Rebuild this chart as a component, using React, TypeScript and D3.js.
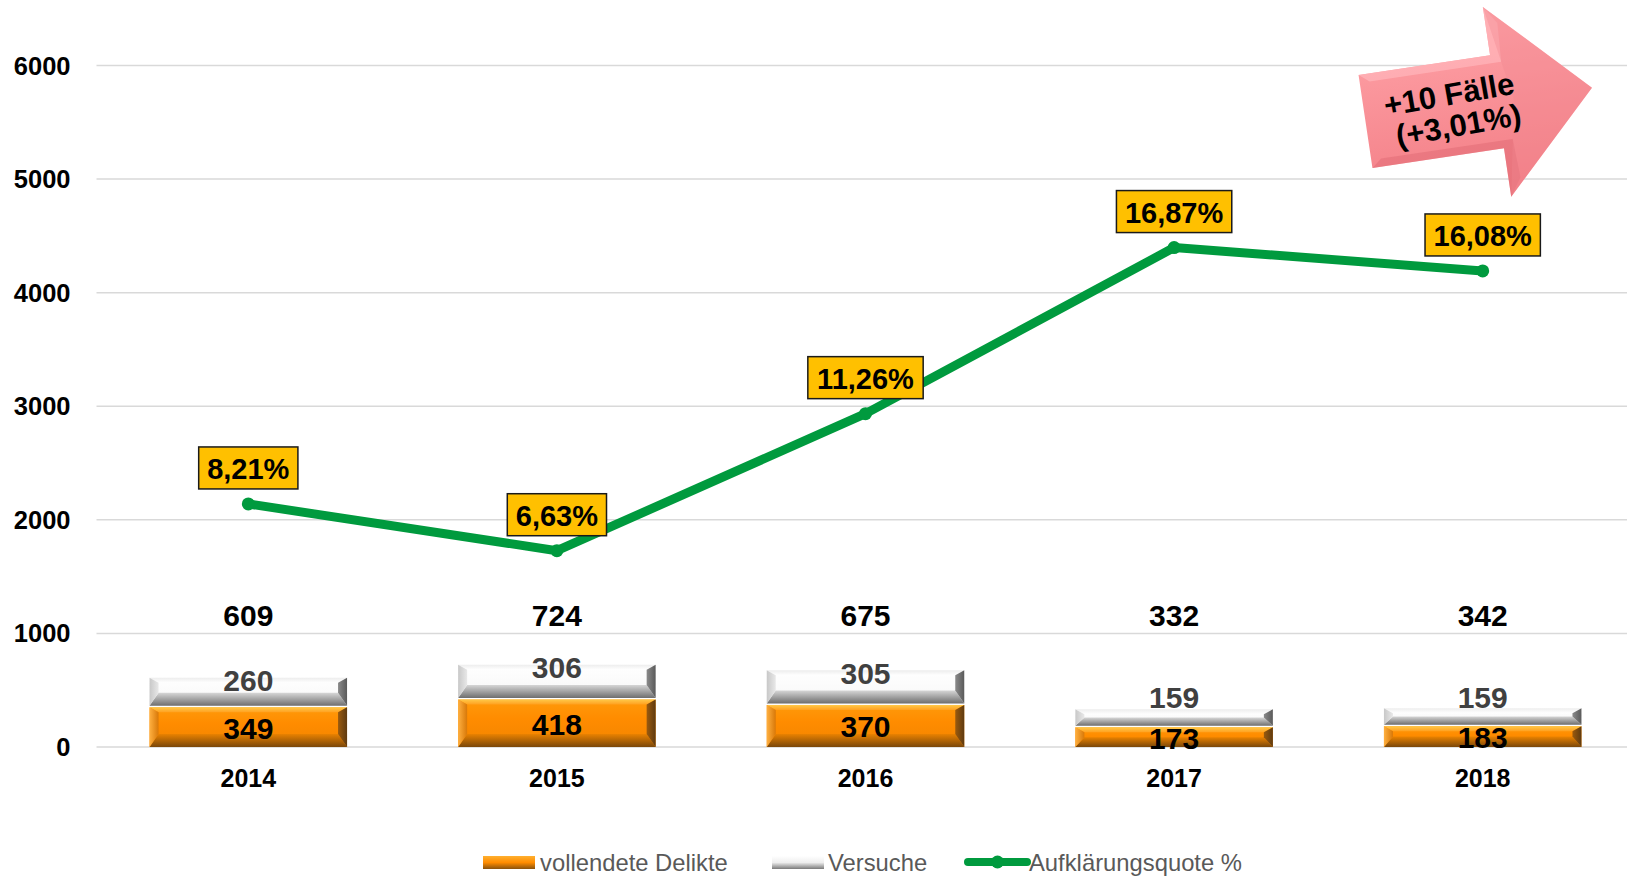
import React from "react";
import * as d3 from "d3";

const years = ["2014", "2015", "2016", "2017", "2018"];
const vollendete = [349, 418, 370, 173, 183];
const versuche = [260, 306, 305, 159, 159];
const totals = [609, 724, 675, 332, 342];
const quote = [8.21, 6.63, 11.26, 16.87, 16.08];
const quoteLabels = ["8,21%", "6,63%", "11,26%", "16,87%", "16,08%"];
const yTicks = [0, 1000, 2000, 3000, 4000, 5000, 6000];
const legendItems = ["vollendete Delikte", "Versuche", "Aufklärungsquote %"];
const arrowLines = ["+10 Fälle", "(+3,01%)"];

const W = 1627;
const H = 876;

const x = d3.scaleBand<string>().domain(years).range([94, 1637]).paddingInner(0.36).paddingOuter(0.18);
const y = d3.scaleLinear().domain([0, 6000]).range([747, 65.5]);
const y2 = d3.scaleLinear().domain([0, 23.02]).range([747, 65.5]);

const charW: Record<string, number> = { ",": 0.278, "%": 0.889 };
const textW = (s: string, fs: number) =>
  s.split("").reduce((a, c) => a + (charW[c] ?? 0.556), 0) * fs;

const FONT = "Liberation Sans, Arial, sans-serif";

function BevelBar({ x0, y0, w, h, kind }: { x0: number; y0: number; w: number; h: number; kind: "o" | "g" }) {
  const bt = Math.min(5, h / 3);
  const bb = Math.min(13, h / 2);
  const s = 9;
  const c =
    kind === "o"
      ? { face: "url(#faceO)", top: "url(#topO)", bottom: "url(#botO)", left: "url(#leftO)", right: "url(#rightO)" }
      : { face: "url(#faceG)", top: "url(#topG)", bottom: "url(#botG)", left: "url(#leftG)", right: "url(#rightG)" };
  const p = (pts: number[][]) => pts.map((q) => q.join(",")).join(" ");
  return (
    <g>
      <rect x={x0} y={y0} width={w} height={h} fill={c.face} />
      <polygon points={p([[x0, y0], [x0 + w, y0], [x0 + w - s, y0 + bt], [x0 + s, y0 + bt]])} fill={c.top} />
      <polygon points={p([[x0, y0 + h], [x0 + w, y0 + h], [x0 + w - s, y0 + h - bb], [x0 + s, y0 + h - bb]])} fill={c.bottom} />
      <polygon points={p([[x0, y0], [x0 + s, y0 + bt], [x0 + s, y0 + h - bb], [x0, y0 + h]])} fill={c.left} />
      <polygon points={p([[x0 + w, y0], [x0 + w - s, y0 + bt], [x0 + w - s, y0 + h - bb], [x0 + w, y0 + h]])} fill={c.right} />
    </g>
  );
}

const vgrad = (id: string, stops: [number, string][], horiz = false) => (
  <linearGradient id={id} x1="0" y1="0" x2={horiz ? "1" : "0"} y2={horiz ? "0" : "1"}>
    {stops.map(([o, col], i) => (
      <stop key={i} offset={o} stopColor={col} />
    ))}
  </linearGradient>
);

export default function App() {
  const bw = x.bandwidth();
  const cx = (d: string) => (x(d) as number) + bw / 2;
  const lineGen = d3
    .line<number>()
    .x((_, i) => cx(years[i]))
    .y((v) => y2(v));

  return (
    <svg width={W} height={H} style={{ position: "absolute", left: 0, top: 0, background: "#fff" }} fontFamily={FONT}>
      <defs>
        {vgrad("faceO", [[0, "#FF9A0A"], [0.4, "#FF8C00"], [1, "#F28400"]])}
        {vgrad("topO", [[0, "#FFC848"], [1, "#FFA020"]])}
        {vgrad("botO", [[0, "#EA8200"], [1, "#7A470A"]])}
        {vgrad("leftO", [[0, "#FFB040"], [1, "#D87808"]], true)}
        {vgrad("rightO", [[0, "#9A5A0E"], [1, "#5E3A10"]], true)}
        {vgrad("faceG", [[0, "#FFFFFF"], [0.6, "#FAFAFA"], [1, "#EDEDED"]])}
        {vgrad("topG", [[0, "#EDEDED"], [1, "#FFFFFF"]])}
        {vgrad("botG", [[0, "#D6D6D6"], [1, "#6E6E6E"]])}
        {vgrad("leftG", [[0, "#C8C8C8"], [1, "#E8E8E8"]], true)}
        {vgrad("rightG", [[0, "#8A8A8A"], [1, "#5A5A5A"]], true)}
        {vgrad("legO", [[0, "#FFB030"], [0.5, "#FF8C00"], [1, "#8A520C"]])}
        {vgrad("legG", [[0, "#FFFFFF"], [0.5, "#EEEEEE"], [1, "#7A7A7A"]])}
        <linearGradient id="arrowG" x1="0" y1="0" x2="0" y2="1">
          <stop offset="0" stopColor="#FFA3A8" />
          <stop offset="1" stopColor="#F27C84" />
        </linearGradient>
      </defs>

      {/* gridlines + y ticks */}
      {yTicks.map((t) => (
        <g key={t}>
          <line x1={96.5} x2={W} y1={y(t)} y2={y(t)} stroke="#D9D9D9" strokeWidth={1.5} />
          <text x={70.5} y={y(t)} textAnchor="end" dominantBaseline="central" fontSize={25.5} fontWeight="bold" fill="#000">
            {t}
          </text>
        </g>
      ))}

      {/* bars */}
      {years.map((yr, i) => {
        const x0 = x(yr) as number;
        const top1 = y(vollendete[i]);
        const top2 = y(vollendete[i] + versuche[i]);
        return (
          <g key={yr}>
            <BevelBar x0={x0} y0={top1} w={bw} h={y(0) - top1} kind="o" />
            <BevelBar x0={x0} y0={top2} w={bw} h={top1 - top2 - 1.5} kind="g" />
          </g>
        );
      })}

      {/* bar labels */}
      {years.map((yr, i) => {
        const top1 = y(vollendete[i]);
        const top2 = y(vollendete[i] + versuche[i]);
        return (
          <g key={"l" + yr} fontWeight="bold" fontSize={30} textAnchor="middle">
            <text x={cx(yr)} y={(top1 + y(0)) / 2 + 1} dominantBaseline="central" fill="#000">
              {vollendete[i]}
            </text>
            <text x={cx(yr)} y={Math.min(top2 + 3, 697)} dominantBaseline="central" fill="#404040">
              {versuche[i]}
            </text>
            <text x={cx(yr)} y={y(1160)} dominantBaseline="central" fill="#000">
              {totals[i]}
            </text>
            <text x={cx(yr)} y={778} dominantBaseline="central" fontSize={25} fill="#000">
              {yr}
            </text>
          </g>
        );
      })}

      {/* line */}
      <path d={lineGen(quote) || ""} fill="none" stroke="#009A3E" strokeWidth={9} strokeLinejoin="round" />
      {quote.map((v, i) => (
        <circle key={"c" + i} cx={cx(years[i])} cy={y2(v)} r={6.5} fill="#009A3E" />
      ))}
      {quote.map((v, i) => {
        const tw = textW(quoteLabels[i], 29) + 17;
        const px = cx(years[i]);
        const py = y2(v) - 36;
        return (
          <g key={"q" + i}>
            <rect x={px - tw / 2} y={py - 21} width={tw} height={42} fill="#FFC000" stroke="#1a1a1a" strokeWidth={1.5} />
            <text x={px} y={py + 1} textAnchor="middle" dominantBaseline="central" fontSize={29} fontWeight="bold" fill="#000">
              {quoteLabels[i]}
            </text>
          </g>
        );
      })}

      {/* arrow */}
      <g transform="translate(1365.5,121.5) rotate(-8.5)">
        <polygon points="0,-47 133,-47 133,-96 229,0 133,96 133,47 0,47" fill="url(#arrowG)" />
        <polygon points="0,-47 133,-47 133,-96 145,-78 143,-39 10,-39" fill="#FFB3B8" opacity={0.8} />
        <polygon points="0,47 133,47 133,96 145,78 143,39 10,39" fill="#E06A74" opacity={0.5} />
        <polygon points="133,-96 229,0 133,96 150,0" fill="#F08890" opacity={0.35} />
        <g fontSize={31} fontWeight="bold" textAnchor="middle" fill="#000" transform="rotate(-1.5)">
          <text x={87} y={-12} dominantBaseline="central">{arrowLines[0]}</text>
          <text x={91} y={20} dominantBaseline="central">{arrowLines[1]}</text>
        </g>
      </g>

      {/* legend */}
      <g>
        <rect x={483} y={856} width={52} height={13} fill="url(#legO)" />
        <text x={540} y={862} dominantBaseline="central" fontSize={23.8} fill="#595959">{legendItems[0]}</text>
        <rect x={772} y={856} width={52} height={13} fill="url(#legG)" />
        <text x={828} y={862} dominantBaseline="central" fontSize={23.8} fill="#595959">{legendItems[1]}</text>
        <line x1={968} x2={1027} y1={862} y2={862} stroke="#009A3E" strokeWidth={8} strokeLinecap="round" />
        <circle cx={997.5} cy={862} r={6.5} fill="#009A3E" />
        <text x={1029} y={862} dominantBaseline="central" fontSize={23.8} fill="#595959">{legendItems[2]}</text>
      </g>
    </svg>
  );
}
